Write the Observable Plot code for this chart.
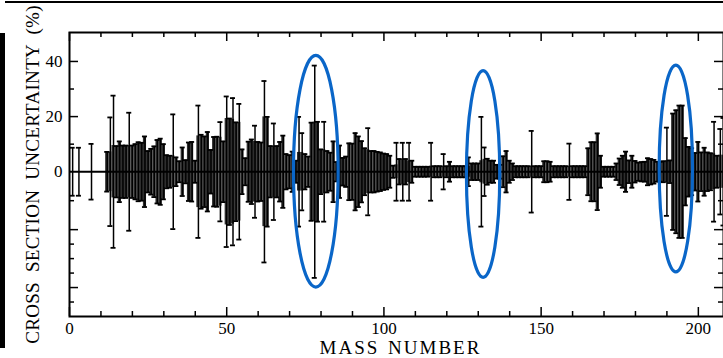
<!DOCTYPE html>
<html>
<head>
<meta charset="utf-8">
<script src="https://cdn.jsdelivr.net/npm/d3@7"></script>
<script src="https://cdn.jsdelivr.net/npm/@observablehq/plot@0.6"></script>
<style>
  html, body { margin: 0; padding: 0; background: #fff; }
  #wrap { position: relative; width: 723px; height: 358px; overflow: hidden; }
  #topline { position: absolute; left: 5px; top: 1px; width: 718px; height: 2px; background: #000; }
  #leftbar { position: absolute; left: 0; top: 33px; width: 5px; height: 315px; background: #000; }
</style>
</head>
<body>
<div id="wrap"><div id="chart"></div><div id="topline"></div><div id="leftbar"></div></div>
<script>
// Mass numbers with data
const masses = [1,3,7,12,13,14,15,16,17,18,19,20,21,22,23,24,25,26,27,28,29,30,
  31,32,33,34,35,36,37,38,39,40,41,42,43,44,45,46,47,48,49,50,51,52,53,54,55,56,57,58,59,60,
  61,62,63,64,65,66,67,68,69,70,71,72,73,74,75,76,77,78,79,80,81,82,83,84,85,86,87,88,89,90,
  91,92,93,94,95,96,97,98,99,100,101,102,103,104,105,106,107,108,109,110,111,112,113,114,115,116,117,118,119,120,
  121,122,123,124,125,126,127,128,129,130,131,132,133,134,135,136,137,138,139,140,141,142,143,144,145,146,147,148,149,150,
  151,152,153,154,155,156,157,158,159,160,161,162,163,164,165,166,167,168,169,170,171,172,173,174,175,176,177,178,179,180,
  181,182,183,184,185,186,187,188,189,190,191,192,193,194,195,196,197,198,199,200,201,202,203,204,205,206,207,208];
// Error bar half-width (%)
const errorBar = [8.7,8.7,10.1,7.2,19.7,27.6,9.3,11,9.5,9.5,21.4,9.5,10,10.7,10.5,12.8,7.5,8.3,9.2,11.5,12,10,
  6,5.8,20.8,5.2,3.8,8.8,4.2,10.6,10.8,4,24,13.4,12.8,14.4,7.9,12.6,12.7,18,11,27.3,19.3,26.7,17.9,24.6,8.1,4.9,10.9,11.7,16.7,10.8,
  10.6,32.9,19.9,9.3,17.5,9.3,10.8,13.1,6.4,6,7.3,4,19.9,14,6.4,5.5,17.8,38.5,18.1,8.1,18.1,7.5,6.9,11,3.5,9.5,5,5.5,10.3,10.2,
  14,12.8,11.1,8.5,15.8,7.5,7.5,7.2,7,6.6,6.4,5.8,2.2,10.5,4.6,10.5,4.6,10.5,4,1.8,1.8,1.8,1.8,1.8,10.5,2,2,2,6.4,2,
  3.6,2,2,2,2,2,5.2,3,3,3,19.9,8.8,4.7,4,4,2.5,2.5,5.6,7.5,4,3,2,2,2,2,2,14.8,2,2,2,
  3.8,3.8,3.6,2,2,2,2,2,10.2,2,2,2,2,2,8.5,10.7,10.7,13.9,5.8,1.8,1.8,1.8,1.8,3,4.8,5.8,7.3,4.1,5.8,3.9,
  3.3,3.5,3.6,4.9,4.6,4.3,3.6,3.6,3.8,16,4.1,21.1,22.3,24,24,12.2,9,8.5,6.8,10.8,7,8.7,7,6.7,18.1,5.8,15.5,19.5];
// Shaded bar half-height (%)
const barHeight = [0,0,0,7.2,7.2,9.5,9.3,11,9.5,9.5,9.5,9.5,10,10.7,10.5,12.8,7.5,8.3,9.2,11.5,12,10,
  6,5.8,5.8,5.2,3.8,8.8,4.2,10.6,10.8,4,13,13.4,12.8,14.4,7.9,12.6,12.7,12.5,11,19.3,19.3,19,17.9,17.9,8.1,4.9,10.9,11.7,11,10.8,
  10.6,19.9,19.9,9.3,9.3,9.3,10.8,13.1,6.4,6,7.3,4,7,7,6.4,5.5,17.8,18,18.1,8.1,8,7.5,6.9,11,3.5,9.5,5,5.5,10.3,10.2,
  14,12.8,11.1,8.5,8,7.5,7.5,7.2,7,6.6,6.4,5.8,2.2,2.5,4.6,4.6,4.6,4,4,1.8,1.8,1.8,1.8,1.8,2,2,2,2,2,2,
  3.6,2,2,2,2,2,2,3,3,3,4,4.5,4.7,4,4,2.5,2.5,5.6,7.5,4,3,2,2,2,2,2,2,2,2,2,
  3.8,3.8,3.6,2,2,2,2,2,2,2,2,2,2,2,8.5,10.7,10.7,13.9,5.8,1.8,1.8,1.8,1.8,3,4.8,5.8,7.3,4.1,5.8,3.9,
  3.3,3.5,3.6,4.9,4.6,4.3,3.6,3.6,3.8,4,4.1,21.1,22.3,24,24,12.2,9,8.5,6.8,10.8,7,8.7,7,6.7,6.5,5.8,6,6];

// Axis ticks
const xTickLabels = [0, 50, 100, 150, 200];
const xMinorTicks = [10,20,30,40,60,70,80,90,110,120,130,140,160,170,180,190];
const yTickLabels = [0, 20, 40];
const yMajorTicks = [20, 40, -21, -42];
const yMinorTicks = [10, 30, -10.5, -26.25, -31.5, -36.75, -47.25];

// Highlight ellipses (center mass, center %, half-width in mass units, half-height in %)
const ellipseMass = [78.5, 131.7, 193];
const ellipseCenter = [0, -1, 1];
const ellipseHalfWidth = [7.1, 5.3, 5.3];
const ellipseHalfHeight = [42, 37.5, 37.5];

const xTitle = "MASS NUMBER";
const yTitle = "CROSS SECTION UNCERTAINTY (%)";

const data = masses.map((m, i) => ({m, u: errorBar[i], b: barHeight[i]}));
const ellipses = ellipseMass.map((m, i) => ({m, c: ellipseCenter[i], rx: ellipseHalfWidth[i], ry: ellipseHalfHeight[i]}));

const FW = 654, FH = 284;

const chart = Plot.plot({
  width: 723, height: 358,
  marginLeft: 69, marginRight: 0, marginTop: 32, marginBottom: 42,
  x: {domain: [0, 208], ticks: xTickLabels, tickSize: 0, tickPadding: 5, label: null},
  y: {domain: [-52.5, 50.5], ticks: yTickLabels, tickSize: 0, tickPadding: 7, label: null},
  style: {fontFamily: "'Liberation Serif', serif", fontSize: "17px", color: "#000", background: "#fff"},
  marks: [
    Plot.rect(data, {x1: d => d.m - 0.5, x2: d => d.m + 0.5, y1: d => -d.b, y2: d => d.b, fill: "#2e2e2e"}),
    Plot.ruleX(data, {x: "m", y1: d => -d.u, y2: "u", stroke: "#000", strokeWidth: 1.5}),
    Plot.ruleY(data, {y: "u", x1: d => d.m - 0.8, x2: d => d.m + 0.8, stroke: "#000", strokeWidth: 1.8}),
    Plot.ruleY(data, {y: d => -d.u, x1: d => d.m - 0.8, x2: d => d.m + 0.8, stroke: "#000", strokeWidth: 1.8}),
    Plot.ruleY([0], {stroke: "#000", strokeWidth: 1.8}),
    // inward ticks
    Plot.ruleX(xMinorTicks, {x: d => d, insetTop: FH - 5, strokeWidth: 1.5}),
    Plot.ruleX(xTickLabels, {x: d => d, insetTop: FH - 9, strokeWidth: 1.5}),
    Plot.ruleX(xMinorTicks, {x: d => d, insetBottom: FH - 5, strokeWidth: 1.5}),
    Plot.ruleX(xTickLabels, {x: d => d, insetBottom: FH - 9, strokeWidth: 1.5}),
    Plot.ruleY(yMinorTicks, {y: d => d, insetRight: FW - 5, strokeWidth: 1.5}),
    Plot.ruleY(yMajorTicks, {y: d => d, insetRight: FW - 9, strokeWidth: 1.5}),
    Plot.ruleY(yMinorTicks, {y: d => d, insetLeft: FW - 5, strokeWidth: 1.5}),
    Plot.ruleY(yMajorTicks, {y: d => d, insetLeft: FW - 9, strokeWidth: 1.5}),
    Plot.frame({stroke: "#000", strokeWidth: 2}),
    // highlight ellipses
    (index, scales) => {
      const g = d3.create("svg:g");
      for (const e of ellipses) {
        const cx = scales.x(e.m), cy = scales.y(e.c);
        g.append("ellipse")
          .attr("cx", cx).attr("cy", cy)
          .attr("rx", Math.abs(scales.x(e.m + e.rx) - cx))
          .attr("ry", Math.abs(scales.y(e.c + e.ry) - cy))
          .attr("fill", "none").attr("stroke", "#0a66c8").attr("stroke-width", 3.2);
      }
      return g.node();
    },
    Plot.text([xTitle], {frameAnchor: "bottom", dy: 31, dx: 4, lineAnchor: "middle", textAnchor: "middle",
      fontSize: 19, fill: "#000"}),
    Plot.text([yTitle], {frameAnchor: "left", dx: -37, rotate: -90, lineAnchor: "middle",
      textAnchor: "middle", fontSize: 19, fill: "#000"})
  ]
});
d3.select(chart).selectAll("text").each(function() {
  const t = this.textContent;
  if (t === xTitle) d3.select(this).attr("letter-spacing", 2).attr("word-spacing", 2);
  if (t === yTitle) d3.select(this).attr("letter-spacing", 0.3).attr("word-spacing", 5);
});
document.getElementById("chart").appendChild(chart);
</script>
</body>
</html>
